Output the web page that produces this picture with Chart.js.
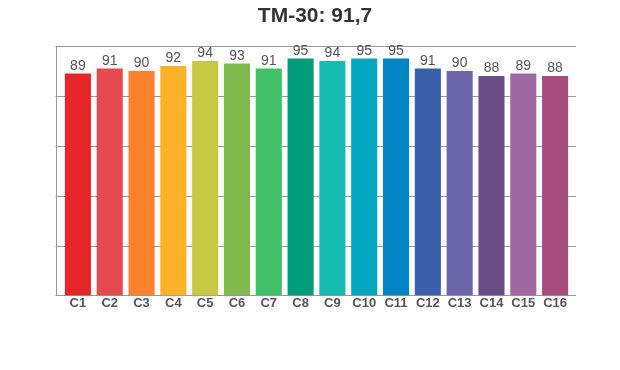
<!DOCTYPE html>
<html lang="en">
<head>
    <meta charset="UTF-8">
    <title>TM-30</title>
    <script src="https://cdn.jsdelivr.net/npm/chart.js"></script>
    <style>
        body { margin: 0; background: #fff; }
        canvas { display: block; }
    </style>
</head>
<body>
    <canvas id="tmChart" width="620" height="370"></canvas>
    <script>
        const titleText = 'TM-30: 91,7';
        const categories = ['C1','C2','C3','C4','C5','C6','C7','C8','C9','C10','C11','C12','C13','C14','C15','C16'];
        const values = [89, 91, 90, 92, 94, 93, 91, 95, 94, 95, 95, 91, 90, 88, 89, 88];
        const barColors = ['#E8262A','#E54A4F','#FB812E','#FDB128','#C8C943','#7EB94C','#41C06A','#009C7B',
                           '#17BCB1','#00A8C1','#0085C4','#3B60AB','#6C67AA','#6A4C87','#A068A2','#A64D7D'];
        const gridValues = [20, 40, 60, 80, 100];

        // grid that runs a little past the bars on both sides, like the original
        const gridPlugin = {
            id: 'wideGrid',
            beforeDatasetsDraw(chart) {
                const ctx = chart.ctx, a = chart.chartArea, y = chart.scales.y;
                const left = a.left - 6.5, right = a.right + 5;
                ctx.save();
                ctx.strokeStyle = '#999';
                ctx.lineWidth = 1;
                gridValues.forEach(v => {
                    const py = Math.round(y.getPixelForValue(v)) + 0.5;
                    ctx.beginPath(); ctx.moveTo(left, py); ctx.lineTo(right, py); ctx.stroke();
                });
                const by = Math.round(y.getPixelForValue(0)) + 0.5;
                ctx.beginPath(); ctx.moveTo(left, by); ctx.lineTo(right, by); ctx.stroke();
                ctx.beginPath();
                ctx.moveTo(Math.round(left) + 0.5, Math.round(y.getPixelForValue(100)));
                ctx.lineTo(Math.round(left) + 0.5, by);
                ctx.stroke();
                ctx.restore();
            }
        };

        // title + value labels
        const labelPlugin = {
            id: 'labels',
            afterDatasetsDraw(chart) {
                const ctx = chart.ctx;
                ctx.save();
                ctx.fillStyle = '#333';
                ctx.font = 'bold 21px Arial, "Liberation Sans", sans-serif';
                ctx.textAlign = 'center';
                ctx.textBaseline = 'middle';
                ctx.fillText(titleText, 315, 16);

                ctx.fillStyle = '#555';
                ctx.font = '14px Arial, "Liberation Sans", sans-serif';
                ctx.textBaseline = 'bottom';
                chart.getDatasetMeta(0).data.forEach((bar, i) => {
                    ctx.fillText(values[i], bar.x, bar.y - 0.5);
                });
                ctx.restore();
            }
        };

        new Chart(document.getElementById('tmChart'), {
            type: 'bar',
            data: {
                labels: categories,
                datasets: [{
                    data: values,
                    backgroundColor: barColors,
                    barPercentage: 0.82,
                    categoryPercentage: 1.0
                }]
            },
            options: {
                responsive: false,
                animation: false,
                layout: { padding: { left: 62, right: 49, top: 46, bottom: 59 } },
                plugins: { legend: { display: false }, title: { display: false }, tooltip: { enabled: false } },
                scales: {
                    x: {
                        grid: { display: false, drawTicks: false },
                        border: { display: false },
                        ticks: {
                            color: '#555',
                            font: { family: 'Arial, "Liberation Sans", sans-serif', size: 13, weight: 'bold' },
                            padding: 0,
                            maxRotation: 0,
                            autoSkip: false
                        }
                    },
                    y: {
                        display: false,
                        min: 0, max: 100
                    }
                }
            },
            plugins: [gridPlugin, labelPlugin]
        });
    </script>
</body>
</html>
